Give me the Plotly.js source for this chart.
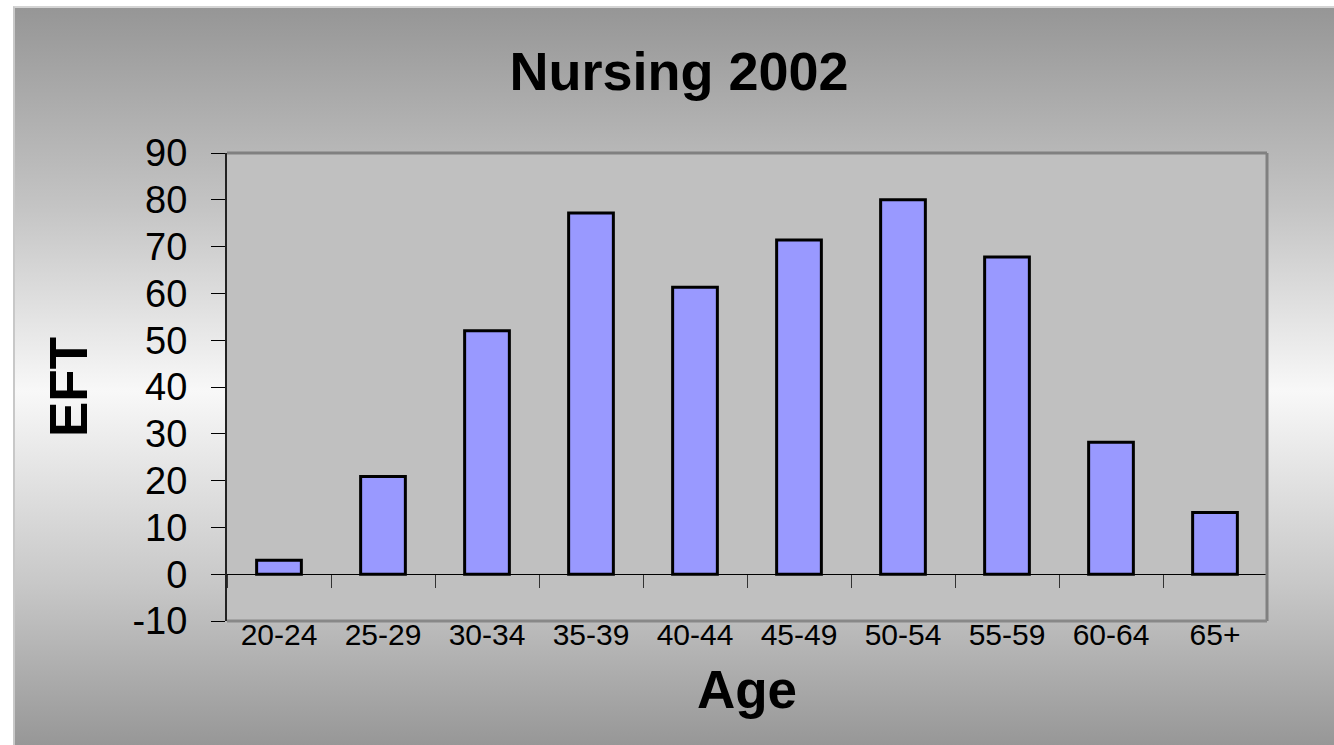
<!DOCTYPE html>
<html>
<head>
<meta charset="utf-8">
<script src="https://cdn.plot.ly/plotly-3.0.1.min.js"></script>
<style>
  html, body { margin: 0; padding: 0; background: #ffffff; width: 1334px; height: 745px; overflow: hidden; }
  #bg { position: absolute; left: 13px; top: 6px; width: 1319px; height: 737px;
        border-left: 2px solid #c8c8c8; border-top: 2px solid #d4d4d4;
        background: linear-gradient(to bottom, #969696 0%, #c4c4c4 27%, #f8f8f8 52%, #c8c8c8 78%, #979797 100%); }
  #chart { position: absolute; left: 0; top: 0; width: 1334px; height: 745px; }
</style>
</head>
<body>
<div id="bg"></div>
<div id="chart"></div>
<script>
const categories = ["20-24", "25-29", "30-34", "35-39", "40-44", "45-49", "50-54", "55-59", "60-64", "65+"];
const eftValues = [3.0, 20.9, 52.0, 77.2, 61.3, 71.4, 80.0, 67.8, 28.2, 13.2];
const yTickValues = [-10, 0, 10, 20, 30, 40, 50, 60, 70, 80, 90];
const yRange = [-10, 90];

const zeroFrac = (0 - yRange[0]) / (yRange[1] - yRange[0]);

const trace = {
  type: "bar",
  x: categories,
  y: eftValues,
  marker: { color: "#9999ff", line: { color: "#000000", width: 3 } },
  width: 0.43,
  hoverinfo: "x+y"
};

const layout = {
  width: 1334,
  height: 745,
  margin: { l: 227, r: 67, t: 153, b: 124, pad: 0 },
  paper_bgcolor: "rgba(0,0,0,0)",
  plot_bgcolor: "#c0c0c0",
  showlegend: false,
  title: {
    text: "Nursing 2002",
    font: { family: "Liberation Sans, Arial, sans-serif", size: 54, color: "#000000", weight: "bold" },
    x: 0.509, xanchor: "center",
    y: 0.905, yanchor: "middle"
  },
  xaxis: {
    type: "category",
    anchor: "free",
    position: zeroFrac,
    showline: true,
    linecolor: "#000000",
    linewidth: 1,
    ticks: "outside",
    tickson: "boundaries",
    ticklen: 13,
    tickwidth: 1,
    tickcolor: "#333333",
    ticklabelstandoff: 34,
    tickfont: { family: "Liberation Sans Narrow, Arial Narrow, Liberation Sans, sans-serif", size: 30, color: "#000000" },
    showgrid: false,
    zeroline: false,
    title: {
      text: "Age",
      font: { family: "Liberation Sans, Arial, sans-serif", size: 53, color: "#000000", weight: "bold" },
      standoff: 20
    },
    fixedrange: true
  },
  yaxis: {
    range: yRange,
    tickmode: "array",
    tickvals: yTickValues,
    ticktext: yTickValues.map(String),
    showline: true,
    linecolor: "#222222",
    linewidth: 2,
    ticks: "outside",
    ticklen: 14,
    tickwidth: 1,
    tickcolor: "#000000",
    ticklabelstandoff: 16,
    tickfont: { family: "Liberation Sans, Arial, sans-serif", size: 38, color: "#000000" },
    showgrid: false,
    zeroline: false,
    title: {
      text: "EFT",
      font: { family: "Liberation Sans, Arial, sans-serif", size: 53, color: "#000000", weight: "bold" },
      standoff: 28
    },
    fixedrange: true
  },
  shapes: [
    { type: "line", xref: "paper", yref: "paper", x0: 0, x1: 1, y0: 1, y1: 1, line: { color: "#808080", width: 3 }, layer: "above" },
    { type: "line", xref: "paper", yref: "paper", x0: 1, x1: 1, y0: 0, y1: 1, line: { color: "#808080", width: 3 }, layer: "above" },
    { type: "line", xref: "paper", yref: "paper", x0: 0, x1: 1, y0: 0, y1: 0, line: { color: "#888888", width: 3 }, layer: "above" }
  ]
};

Plotly.newPlot("chart", [trace], layout, { staticPlot: true, displayModeBar: false });
</script>
</body>
</html>
